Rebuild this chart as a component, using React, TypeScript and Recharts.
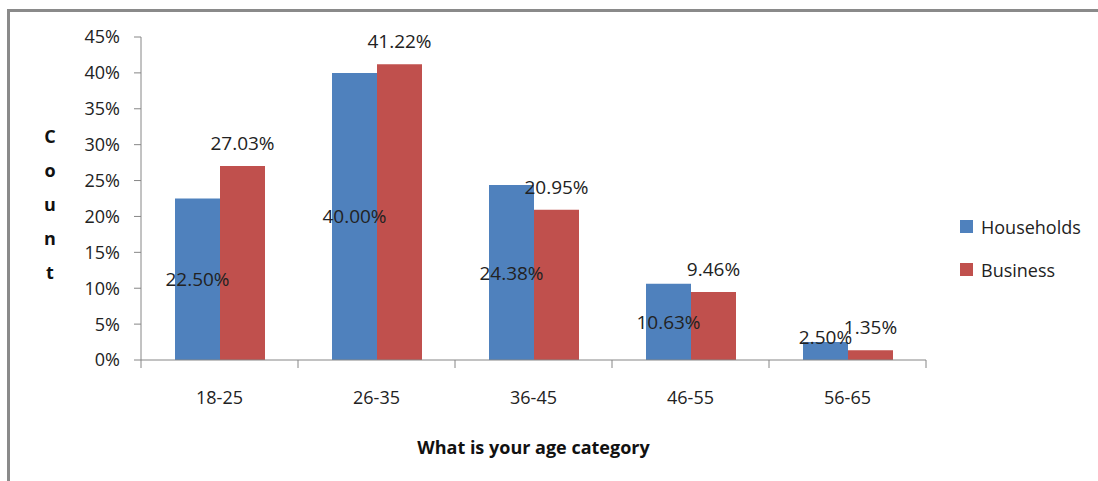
import { BarChart, Bar, XAxis, YAxis, LabelList, Label } from 'recharts';

const categories = ['18-25', '26-35', '36-45', '46-55', '56-65'];
const households = [22.5, 40.0, 24.38, 10.63, 2.5];
const business = [27.03, 41.22, 20.95, 9.46, 1.35];
const yTicks = [0, 5, 10, 15, 20, 25, 30, 35, 40, 45];

const data = categories.map((age, i) => ({
  age,
  households: households[i],
  business: business[i],
}));

const W = 1098;
const H = 481;
const LEFT = 141;
const RIGHT = 172;
const TOP = 37;
const XAXIS_H = 121;
const FONT = '"Open Sans", "Liberation Sans", sans-serif';
const AXIS = '#868686';
const BLUE = '#4F81BD';
const RED = '#C0504D';
const bandW = (W - LEFT - RIGHT) / categories.length;

const fmt = (v: number) => v.toFixed(2) + '%';

function XTick(props: any) {
  const { x, y, payload, index } = props;
  const left = x - bandW / 2;
  return (
    <g>
      <line x1={left} y1={y} x2={left} y2={y + 8} stroke={AXIS} strokeWidth={1} />
      {index === categories.length - 1 && (
        <line x1={x + bandW / 2} y1={y} x2={x + bandW / 2} y2={y + 8} stroke={AXIS} strokeWidth={1} />
      )}
      <text x={x} y={y + 37} textAnchor="middle" dominantBaseline="central" fontSize={18} fill="#222" fontFamily={FONT}>
        {payload.value}
      </text>
    </g>
  );
}

function CenterLabel(props: any) {
  const { x, y, width, height, value } = props;
  const cy = Math.min(y + height / 2, y + height - 23);
  return (
    <text x={x + width / 2} y={cy} textAnchor="middle" dominantBaseline="central" fontSize={19} fill="#222" fontFamily={FONT}>
      {fmt(value)}
    </text>
  );
}

function TopLabel(props: any) {
  const { x, y, width, value } = props;
  return (
    <text x={x + width / 2} y={y - 23} textAnchor="middle" dominantBaseline="central" fontSize={19} fill="#222" fontFamily={FONT}>
      {fmt(value)}
    </text>
  );
}

function YTitle() {
  const letters = ['C', 'o', 'u', 'n', 't'];
  return (
    <g>
      {letters.map((c, i) => (
        <text key={c} x={50} y={136 + i * 34} textAnchor="middle" dominantBaseline="central" fontSize={18} fontWeight="bold" fill="#111" fontFamily={FONT}>
          {c}
        </text>
      ))}
    </g>
  );
}

const legendItems = [
  { name: 'Households', color: BLUE },
  { name: 'Business', color: RED },
];

export default function App() {
  return (
    <div style={{ position: 'absolute', left: 0, top: 0, width: W, height: H, background: '#fff' }}>
      <div style={{ position: 'absolute', left: 7, top: 9, right: 0, height: 3, background: '#8a8a8a' }} />
      <div style={{ position: 'absolute', left: 7, top: 9, bottom: 0, width: 3, background: '#8a8a8a' }} />
      <BarChart
        width={W}
        height={H}
        data={data}
        margin={{ top: TOP, right: RIGHT, bottom: 0, left: 0 }}
        barGap={0}
        barSize={45}
      >
        <XAxis
          dataKey="age"
          height={XAXIS_H}
          stroke={AXIS}
          tickLine={false}
          tickSize={0}
          tickMargin={0}
          tick={<XTick />}
          interval={0}
        >
          <Label
            value="What is your age category"
            position="insideBottom"
            offset={27}
            fontSize={18}
            fontWeight="bold"
            fill="#111"
            fontFamily={FONT}
          />
        </XAxis>
        <YAxis
          width={LEFT}
          domain={[0, 45]}
          ticks={yTicks}
          interval={0}
          tickFormatter={(v: number) => v + '%'}
          stroke={AXIS}
          tickSize={7}
          tickMargin={14}
          tick={{ fontSize: 18, fill: '#222', fontFamily: FONT }}
        >
          <Label content={<YTitle />} />
        </YAxis>
        <Bar dataKey="households" name="Households" fill={BLUE} isAnimationActive={false}>
          <LabelList dataKey="households" content={<CenterLabel />} />
        </Bar>
        <Bar dataKey="business" name="Business" fill={RED} isAnimationActive={false}>
          <LabelList dataKey="business" content={<TopLabel />} />
        </Bar>
      </BarChart>
      <div style={{ position: 'absolute', left: 960, top: 205, fontFamily: FONT, fontSize: 18, color: '#222' }}>
        {legendItems.map((it) => (
          <div key={it.name} style={{ display: 'flex', alignItems: 'center', height: 43 }}>
            <span style={{ width: 13, height: 13, background: it.color, marginRight: 8, display: 'inline-block' }} />
            {it.name}
          </div>
        ))}
      </div>
    </div>
  );
}
